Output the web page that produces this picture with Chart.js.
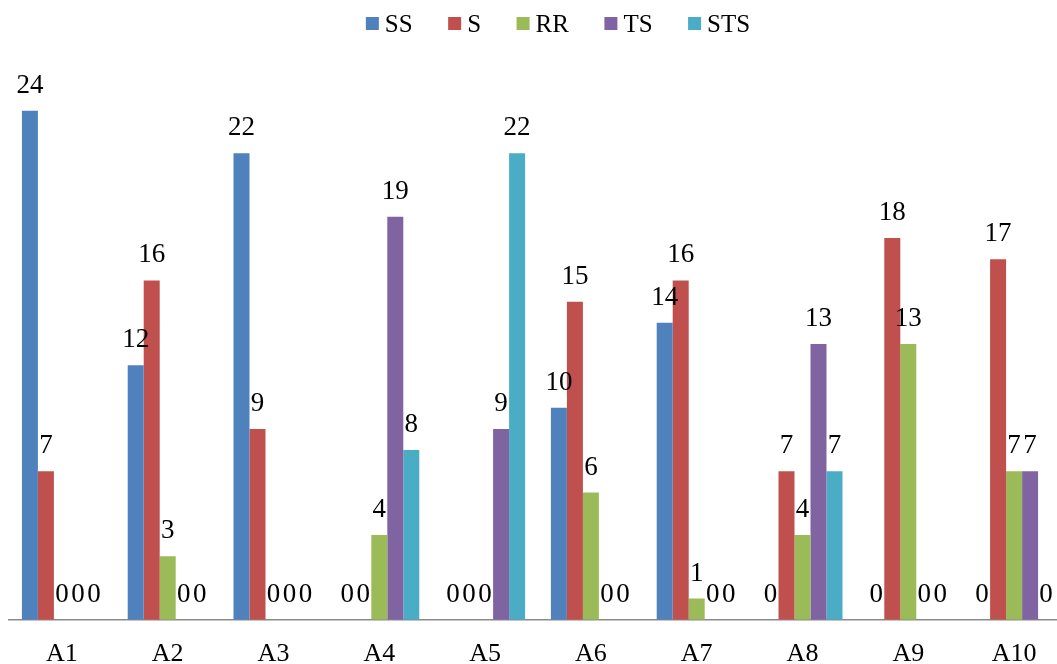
<!DOCTYPE html>
<html>
<head>
<meta charset="utf-8">
<script src="https://cdn.jsdelivr.net/npm/chart.js@4"></script>
<style>
  html, body { margin: 0; padding: 0; background: #fff; overflow: hidden; }
  #wrap { width: 1184px; height: 664px; }
</style>
</head>
<body>
<div id="wrap"><canvas id="chart" width="1184" height="664"></canvas></div>
<script>
// Categories and series
const categories = ['A1', 'A2', 'A3', 'A4', 'A5', 'A6', 'A7', 'A8', 'A9', 'A10'];
const seriesNames = ['SS', 'S', 'RR', 'TS', 'STS'];
const ssValues  = [24, 12, 22, 0, 0, 10, 14, 0, 0, 0];
const sValues   = [7, 16, 9, 0, 0, 15, 16, 7, 18, 17];
const rrValues  = [0, 3, 0, 4, 0, 6, 1, 4, 13, 7];
const tsValues  = [0, 0, 0, 19, 9, 0, 0, 13, 0, 7];
const stsValues = [0, 0, 0, 8, 22, 0, 0, 7, 0, 0];
const colors = ['#4F81BD', '#C0504D', '#9BBB59', '#8064A2', '#4BACC6'];

const FONT = "'Liberation Serif', 'Times New Roman', serif";

// value labels above every bar (zeros included)
const valueLabels = {
  id: 'valueLabels',
  afterDatasetsDraw(chart) {
    const ctx = chart.ctx;
    ctx.save();
    ctx.font = '27px ' + FONT;
    ctx.fillStyle = '#000';
    ctx.textAlign = 'center';
    ctx.textBaseline = 'alphabetic';
    chart.data.datasets.forEach((ds, i) => {
      chart.getDatasetMeta(i).data.forEach((bar, j) => {
        ctx.fillText(String(ds.data[j]), bar.x, bar.y - 18);
      });
    });
    ctx.restore();
  }
};

// legend row at the top, centred a bit right of the plot like the original
const topLegend = {
  id: 'topLegend',
  afterDraw(chart) {
    const ctx = chart.ctx;
    const box = 13, gapText = 6, gapItem = 35.5, center = 558;
    ctx.save();
    ctx.font = '25px ' + FONT;
    const items = chart.data.datasets.map(ds => ({
      text: ds.label, color: ds.backgroundColor, w: ctx.measureText(ds.label).width
    }));
    const total = items.reduce((s, it) => s + box + gapText + it.w, 0) + gapItem * (items.length - 1);
    let x = center - total / 2;
    ctx.textBaseline = 'alphabetic';
    ctx.textAlign = 'left';
    items.forEach(it => {
      ctx.fillStyle = it.color;
      ctx.fillRect(x, 17, box, box);
      ctx.fillStyle = '#000';
      ctx.fillText(it.text, x + box + gapText, 32);
      x += box + gapText + it.w + gapItem;
    });
    ctx.restore();
  }
};

const allValues = [ssValues, sValues, rrValues, tsValues, stsValues];

new Chart(document.getElementById('chart'), {
  type: 'bar',
  data: {
    labels: categories,
    datasets: seriesNames.map((name, i) => ({
      label: name,
      data: allValues[i],
      backgroundColor: colors[i],
      borderWidth: 0,
      categoryPercentage: 0.756,
      barPercentage: 1
    }))
  },
  options: {
    responsive: false,
    animation: false,
    layout: { padding: { top: 45, left: 9, right: 117, bottom: -25 } },
    plugins: {
      legend: { display: false },
      tooltip: { enabled: false }
    },
    scales: {
      x: {
        grid: { display: false, drawTicks: false },
        border: { display: true, color: '#8a8a8a', width: 1.5 },
        ticks: { color: '#000', padding: 19, font: { family: FONT, size: 26 } }
      },
      y: {
        display: false,
        min: 0,
        max: 27.1
      }
    }
  },
  plugins: [valueLabels, topLegend]
});
</script>
</body>
</html>
